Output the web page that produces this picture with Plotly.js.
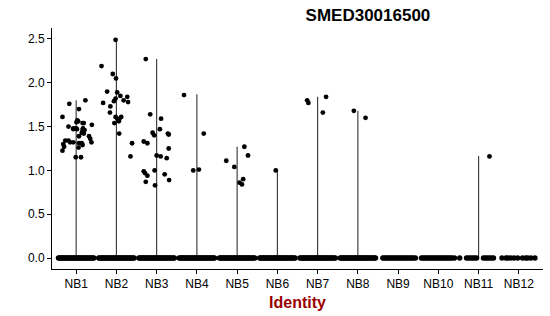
<!DOCTYPE html>
<html>
<head>
<meta charset="utf-8">
<script src="https://cdn.plot.ly/plotly-3.0.1.min.js"></script>
<style>html,body{margin:0;padding:0;background:#fff;}#chart{width:550px;height:316px;}</style>
</head>
<body>
<div id="chart"></div>
<script>
// Categories (cluster identities)
var categories = ["NB1","NB2","NB3","NB4","NB5","NB6","NB7","NB8","NB9","NB10","NB11","NB12"];
// Maximum expression per identity (top of each violin)
var violinMax = [1.80, 2.49, 2.27, 1.87, 1.27, 1.01, 1.84, 1.68, 0, 0, 1.165, 0];

// Non-zero cells: [jitter offset, expression]
var nzNB1 = [[-0.34,1.61],[-0.17,1.76],[0.23,1.80],[0.07,1.70],[-0.19,1.50],[-0.07,1.48],[0.00,1.48],
  [0.03,1.57],[0.01,1.55],[0.16,1.54],[0.39,1.52],[0.17,1.48],[0.21,1.46],[0.07,1.39],[0.32,1.39],
  [0.14,1.43],[-0.34,1.225],[-0.32,1.30],[-0.19,1.34],[-0.15,1.32],[-0.07,1.32],[-0.01,1.15],
  [0.12,1.15],[0.06,1.26],[0.07,1.31],[0.14,1.31],[0.16,1.29],[0.35,1.36],[0.38,1.32],[0.19,1.42],
  [-0.07,1.47],[0.02,1.47],[0.05,1.56],[0.19,1.54],[0.16,1.46],[-0.27,1.34],[-0.30,1.27]];
var nzNB2 = [[-0.37,2.19],[-0.02,2.49],[-0.09,2.10],[-0.01,2.05],[-0.23,1.90],[0.02,1.89],[-0.33,1.77],
  [-0.02,1.82],[-0.06,1.79],[0.10,1.85],[0.27,1.84],[0.18,1.80],[0.29,1.78],[-0.15,1.73],[-0.16,1.66],
  [-0.02,1.61],[0.02,1.59],[0.07,1.58],[0.12,1.61],[-0.05,1.54],[0.06,1.56],[0.07,1.42],[0.35,1.16],[0.39,1.31]];
var nzNB3 = [[-0.27,2.27],[-0.16,1.64],[0.11,1.59],[0.08,1.47],[-0.10,1.43],[-0.06,1.40],[0.28,1.42],
  [-0.32,1.33],[-0.23,1.31],[0.30,1.25],[0.25,1.14],[0.10,1.16],[0.00,1.17],[-0.32,0.99],[-0.29,0.97],
  [-0.23,0.94],[-0.27,0.87],[-0.05,1.00],[-0.04,0.83],[0.20,0.955],[0.31,0.89],[0.30,1.41]];
var nzNB4 = [[-0.32,1.86],[0.17,1.42],[-0.09,1.00],[0.05,1.01]];
var nzNB5 = [[-0.27,1.11],[-0.07,1.04],[0.18,1.27],[0.27,1.17],[0.15,0.90],[0.06,0.86],[0.12,0.84]];
var nzNB6 = [[-0.04,1.00]];
var nzNB7 = [[-0.26,1.80],[-0.23,1.77],[0.21,1.84],[0.13,1.66]];
var nzNB8 = [[-0.10,1.68],[0.19,1.60]];
var nzNB11 = [[0.27,1.16]];

// Zero-expression cells: jitter offsets along the 0 line
var zeroDense = [-0.44,-0.41,-0.38,-0.35,-0.33,-0.30,-0.27,-0.24,-0.21,-0.19,-0.16,-0.13,-0.10,-0.07,-0.05,-0.02,
  0.01,0.04,0.07,0.09,0.12,0.15,0.18,0.21,0.23,0.26,0.29,0.32,0.35,0.38,0.41,0.44];
var zeroNB9 = [-0.38,-0.34,-0.30,-0.26,-0.22,-0.18,-0.14,-0.10,-0.06,-0.02,0.02,0.06,0.10,0.14,0.18,0.22,0.26,0.30,0.34,0.38,0.43];
var zeroNB10 = [-0.42,-0.38,-0.34,-0.30,-0.26,-0.22,-0.18,-0.14,-0.10,-0.06,-0.02,0.02,0.06,0.10,0.14,0.18,0.22,0.26,0.30,0.34,0.40];
var zeroNB11 = [-0.47,-0.30,-0.25,-0.20,-0.15,-0.10,-0.05,0.12,0.17,0.22,0.27,0.32,0.37];
var zeroNB12 = [-0.42,-0.32,-0.27,-0.20,-0.12,-0.03,0.09,0.17,0.22,0.30,0.40];

var nonZero = [nzNB1,nzNB2,nzNB3,nzNB4,nzNB5,nzNB6,nzNB7,nzNB8,[],[],nzNB11,[]];
var zeros = [zeroDense,zeroDense,zeroDense,zeroDense,zeroDense,zeroDense,zeroDense,zeroDense,zeroNB9,zeroNB10,zeroNB11,zeroNB12];

// Build traces
var lx = [], ly = [];
violinMax.forEach(function(m, i){
  if (m > 0) { lx.push(i+1, i+1, null); ly.push(0, m, null); }
});
var zx = [], zy = [];
zeros.forEach(function(arr, i){ arr.forEach(function(o){ zx.push(i+1+o); zy.push(0); }); });
var px = [], py = [];
nonZero.forEach(function(arr, i){ arr.forEach(function(p){ px.push(i+1+p[0]); py.push(p[1]); }); });

var traces = [
  {x: lx, y: ly, mode: 'lines', type: 'scatter', line: {color: '#333', width: 1.1}, hoverinfo: 'skip', showlegend: false},
  {x: zx, y: zy, mode: 'markers', type: 'scatter', marker: {color: '#000', size: 5.4}, hoverinfo: 'skip', showlegend: false},
  {x: px, y: py, mode: 'markers', type: 'scatter', marker: {color: '#000', size: 4.8}, hoverinfo: 'skip', showlegend: false}
];

var layout = {
  width: 550, height: 316,
  margin: {l: 52, r: 7, t: 28, b: 47},
  paper_bgcolor: '#fff', plot_bgcolor: '#fff',
  font: {family: 'Liberation Sans, Arial, sans-serif', color: '#000', size: 12},
  title: {text: '<b>SMED30016500</b>', x: 0.669, xref: 'container', xanchor: 'center', y: 0.952, yref: 'container', yanchor: 'middle',
          font: {size: 17, color: '#000', family: 'Liberation Sans, Arial, sans-serif'}},
  showlegend: false,
  xaxis: {
    range: [0.4, 12.6], tickmode: 'array', tickvals: categories.map(function(c,i){return i+1;}), ticktext: categories,
    showgrid: false, zeroline: false, showline: true, linecolor: '#000', linewidth: 1,
    ticks: 'outside', ticklen: 4, tickcolor: '#000', tickfont: {size: 12, color: '#000'},
    title: {text: '<b>Identity</b>', font: {size: 16, color: '#990000'}, standoff: 6}
  },
  yaxis: {
    range: [-0.125, 2.625], tickmode: 'array', tickvals: [0, 0.5, 1, 1.5, 2, 2.5],
    ticktext: ['0.0','0.5','1.0','1.5','2.0','2.5'],
    showgrid: false, zeroline: false, showline: true, linecolor: '#000', linewidth: 1,
    ticks: 'outside', ticklen: 4, tickcolor: '#000', tickfont: {size: 12, color: '#000'}
  }
};

Plotly.newPlot('chart', traces, layout, {staticPlot: true, displayModeBar: false});
</script>
</body>
</html>
